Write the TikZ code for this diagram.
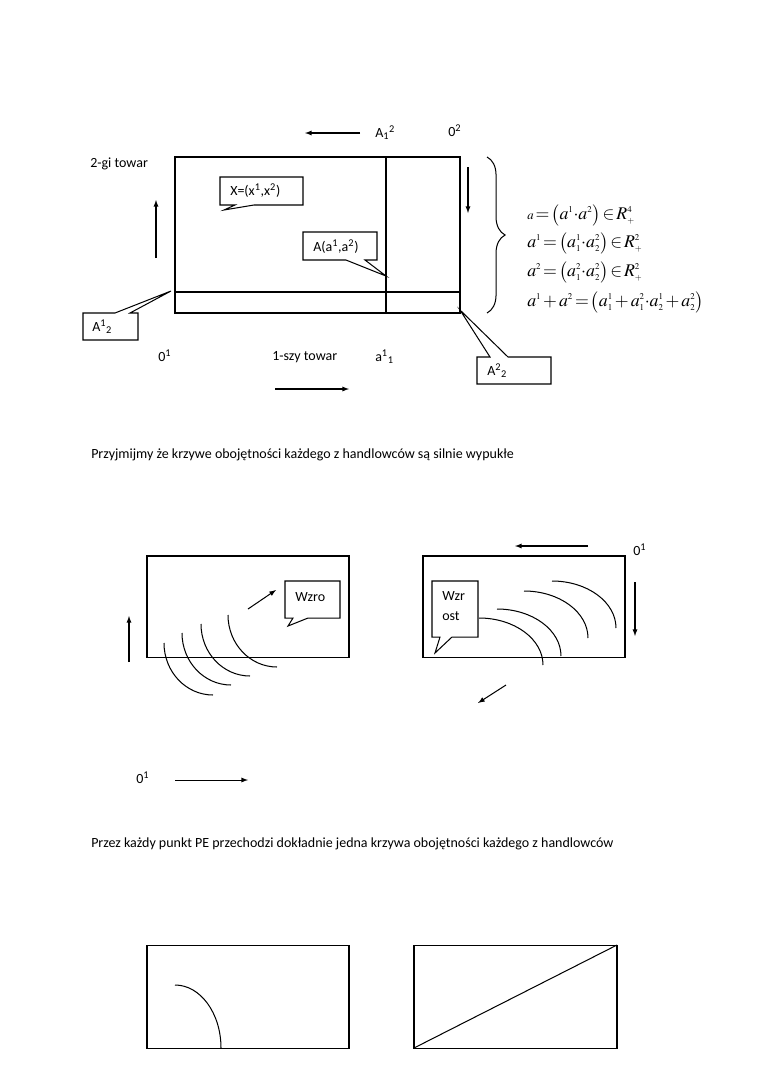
\documentclass[tikz,border=0pt]{standalone}
\usepackage{mathptmx}
\usepackage[no-math]{fontspec}
\setmainfont{Carlito}
\DeclareMathSizes{14}{14}{7}{5}
\usetikzlibrary{decorations.pathreplacing}

\begin{document}
\begin{tikzpicture}[x=0.2763mm, y=-0.2763mm, >=latex, line join=miter,
                    every node/.style={font=\fontsize{11}{13}\selectfont, inner sep=0pt},
                    linia/.style={line width=0.8pt},
                    strzalka/.style={->, line width=0.8pt},
                    tekst/.style={anchor=west},
                    wzor/.style={anchor=west, font=\fontsize{14}{16}\selectfont}]

  \useasboundingbox (0,0) rectangle (760,1075);

  %--- rysunek 1: skrzynka ---
  \draw[linia] (175,157) rectangle (460,313);
  \draw[linia] (386,157) -- (386,313);
  \draw[linia] (175,292) -- (460,292);

  %--- opisy osi ---
  \node[tekst] (towar2) at (90,164) {2-gi towar};
  \node[tekst] (towar1) at (272,357) {1-szy towar};
  \node[tekst] (zero1) at (158,356) {0\textsuperscript{1}};
  \node[tekst] (zero2) at (448,131) {0\textsuperscript{2}};
  \node[tekst] (a12) at (375,133) {A\textsubscript{1}\textsuperscript{2}};
  \node[tekst] (a11) at (375,357) {a\textsuperscript{1}\textsubscript{1}};

  %--- strzalki kierunkow ---
  \coordinate (lewoA) at (360,133);  \coordinate (lewoB) at (305,133);
  \coordinate (goraA) at (156,258);  \coordinate (goraB) at (156,200);
  \coordinate (dolA) at (468,167);   \coordinate (dolB) at (468,213);
  \coordinate (prawoA) at (275,389); \coordinate (prawoB) at (349,389);
  \draw[strzalka] (lewoA) -- (lewoB);
  \draw[strzalka] (goraA) -- (goraB);
  \draw[strzalka] (dolA) -- (dolB);
  \draw[strzalka] (prawoA) -- (prawoB);

  %--- dymki ---
  % X=(x1,x2)
  \draw[linia] (220,177) -- (303,177) -- (303,205) -- (254,205) -- (224,210)
      -- (235,205) -- (220,205) -- cycle;
  \node[tekst] (dymX) at (230,191) {X=(x\textsuperscript{1},x\textsuperscript{2})};
  % A(a1,a2)
  \draw[linia] (303,232) -- (377,232) -- (377,260) -- (365,260) -- (386,276)
      -- (346,260) -- (303,260) -- cycle;
  \node[tekst] (dymA) at (313,247) {A(a\textsuperscript{1},a\textsuperscript{2})};
  % A^1_2
  \draw[linia] (83,313) -- (115,313) -- (171,291) -- (130,313) -- (138,313)
      -- (138,340) -- (83,340) -- cycle;
  \node[tekst] (dymA1) at (92,327) {A\textsuperscript{1}\textsubscript{2}};
  % A^2_2
  \draw[linia] (477,357) -- (490,357) -- (460,310) -- (508,357) -- (551,357)
      -- (551,384) -- (477,384) -- cycle;
  \node[tekst] (dymA2) at (487,371) {A\textsuperscript{2}\textsubscript{2}};

  %--- klamra i wzory ---
  \draw[linia, decorate, decoration={brace, amplitude=5mm}] (487,157) -- (487,313);
  \node[wzor] (w1) at (527,215)
      {\mbox{\fontsize{10}{12}\selectfont$a$}$\,{=}\,\bigl(a^{1}{\cdot}a^{2}\bigr)\,{\in}\,R_{+}^{4}$};
  \node[wzor] (w2) at (527,243)
      {$a^{1}\,{=}\,\bigl(a_{1}^{1}{\cdot}a_{2}^{2}\bigr)\,{\in}\,R_{+}^{2}$};
  \node[wzor] (w3) at (527,272)
      {$a^{2}\,{=}\,\bigl(a_{1}^{2}{\cdot}a_{2}^{2}\bigr)\,{\in}\,R_{+}^{2}$};
  \node[wzor] (w4) at (527,302)
      {$a^{1}\,{+}\,a^{2}\,{=}\,\bigl(a_{1}^{1}\,{+}\,a_{1}^{2}{\cdot}a_{2}^{1}\,{+}\,a_{2}^{2}\bigr)$};

  %--- zdanie 1 ---
  \node[tekst] (zdanie1) at (91,455)
      {Przyjmijmy że krzywe obojętności każdego z handlowców są silnie wypukłe};

  %--- rysunek 2 (lewy) ---
  \draw[linia] (147,556) rectangle (349,657);
  \draw[linia] (164,643) arc[start angle=180, end angle=90, x radius=49, y radius=52];
  \draw[linia] (182,633) arc[start angle=180, end angle=90, x radius=49, y radius=52];
  \draw[linia] (201,624) arc[start angle=180, end angle=90, x radius=49, y radius=52];
  \draw[linia] (228,615) arc[start angle=180, end angle=90, x radius=49, y radius=52];
  \draw[linia] (285,581) -- (340,581) -- (340,618) -- (308,618) -- (288,626)
      -- (293,618) -- (285,618) -- cycle;
  \node[tekst] (wzro) at (295,597) {Wzro};
  \coordinate (wzrostA) at (248,609); \coordinate (wzrostB) at (276,590);
  \coordinate (goraC) at (129,662);   \coordinate (goraD) at (129,616);
  \coordinate (prawoC) at (175,780);  \coordinate (prawoD) at (248,780);
  \draw[strzalka] (wzrostA) -- (wzrostB);
  \draw[strzalka] (goraC) -- (goraD);
  \draw[strzalka] (prawoC) -- (prawoD);
  \node[tekst] (zero1b) at (136,778) {0\textsuperscript{1}};

  %--- rysunek 2 (prawy) ---
  \draw[linia] (423,556) rectangle (625,657);
  \draw[linia] (479,618) arc[start angle=270, end angle=360, x radius=64, y radius=47];
  \draw[linia] (497,609) arc[start angle=270, end angle=360, x radius=64, y radius=47];
  \draw[linia] (524,591) arc[start angle=270, end angle=360, x radius=64, y radius=47];
  \draw[linia] (552,581) arc[start angle=270, end angle=360, x radius=64, y radius=47];
  \draw[linia, fill=white] (432,581) -- (478,581) -- (478,637) -- (452,637) -- (435,653)
      -- (440,637) -- (432,637) -- cycle;
  \node[tekst] (wzr) at (442,596) {Wzr};
  \node[tekst] (ost) at (442,616) {ost};
  \coordinate (lewoC) at (588,546);   \coordinate (lewoD) at (515,546);
  \coordinate (dolC) at (635,582);    \coordinate (dolD) at (635,636);
  \coordinate (spadekA) at (506,685); \coordinate (spadekB) at (478,703);
  \draw[strzalka] (lewoC) -- (lewoD);
  \draw[strzalka] (dolC) -- (dolD);
  \draw[strzalka] (spadekA) -- (spadekB);
  \node[tekst] (zero1c) at (633,550) {0\textsuperscript{1}};

  %--- zdanie 2 ---
  \node[tekst] (zdanie2) at (91,844)
      {Przez każdy punkt PE przechodzi dokładnie jedna krzywa obojętności każdego z handlowców};

  %--- rysunek 3 ---
  \draw[linia] (147,945) rectangle (349,1048);
  \draw[linia] (175,985) arc[start angle=270, end angle=360, x radius=46, y radius=63];
  \draw[linia] (414,945) rectangle (617,1048);
  \draw[linia] (414,1048) -- (617,945);

\end{tikzpicture}
\end{document}
